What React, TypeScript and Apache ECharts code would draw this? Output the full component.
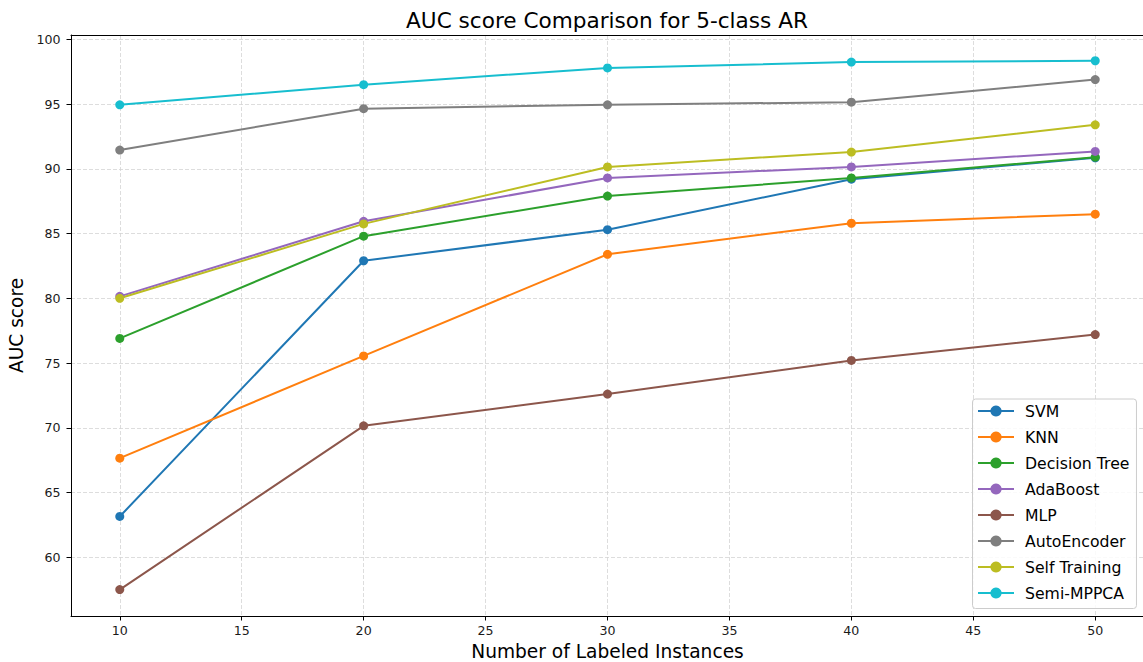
import React, { useEffect, useRef } from "react";
import * as echarts from "echarts";

const xValues = [10, 20, 30, 40, 50];
const xTicks = [10, 15, 20, 25, 30, 35, 40, 45, 50];
const yTicks = [60, 65, 70, 75, 80, 85, 90, 95, 100];

const seriesNames = ["SVM", "KNN", "Decision Tree", "AdaBoost", "MLP", "AutoEncoder", "Self Training", "Semi-MPPCA"];
const colors = ["#1f77b4", "#ff7f0e", "#2ca02c", "#9467bd", "#8c564b", "#7f7f7f", "#bcbd22", "#17becf"];

const svm = [63.15, 82.9, 85.3, 89.2, 90.85];
const knn = [67.65, 75.55, 83.4, 85.8, 86.5];
const decisionTree = [76.9, 84.8, 87.9, 89.3, 90.9];
const adaBoost = [80.15, 85.95, 89.3, 90.15, 91.35];
const mlp = [57.5, 70.15, 72.6, 75.2, 77.2];
const autoEncoder = [91.45, 94.65, 94.95, 95.15, 96.9];
const selfTraining = [80.0, 85.75, 90.15, 91.3, 93.4];
const semiMppca = [94.95, 96.5, 97.8, 98.25, 98.35];

const seriesValues = [svm, knn, decisionTree, adaBoost, mlp, autoEncoder, selfTraining, semiMppca];

const FONT = "DejaVu Sans";

export default function App() {
  const ref = useRef<HTMLDivElement>(null);
  useEffect(() => {
    if (!ref.current) return;
    const chart = echarts.init(ref.current, undefined, { renderer: "svg" });
    const gridLine = { show: true, lineStyle: { color: "#d4d4d4", type: [4, 2] as any, width: 0.8 } };
    chart.setOption({
      animation: false,
      backgroundColor: "#ffffff",
      title: {
        text: "AUC score Comparison for 5-class AR",
        left: 607,
        textAlign: "center",
        top: 9,
        padding: 0,
        textStyle: { fontFamily: FONT, fontSize: 21.6, fontWeight: "normal", color: "#000" },
      },
      grid: { left: 71, top: 35, width: 1073, height: 581, containLabel: false, outerBoundsMode: "none" },
      legend: {
        orient: "vertical",
        left: 972.5,
        top: 399,
        padding: [4, 7, 7.5, 4.5],
        itemWidth: 36,
        itemHeight: 14,
        itemGap: 10,
        borderColor: "#cccccc",
        borderWidth: 1,
        borderRadius: 3,
        backgroundColor: "rgba(255,255,255,0.85)",
        textStyle: { fontFamily: FONT, fontSize: 15.7, color: "#000", padding: [0, 0, 0, 6] },
        data: seriesNames,
      },
      xAxis: [
        {
          type: "value",
          min: 8,
          max: 52,
          name: "Number of Labeled Instances",
          nameLocation: "middle",
          nameGap: 26,
          nameTextStyle: { fontFamily: FONT, fontSize: 18.6, color: "#000" },
          axisLine: { show: true, onZero: false, lineStyle: { color: "#000", width: 1 } },
          axisTick: { show: true, length: 4.5, customValues: xTicks, lineStyle: { color: "#000" } },
          axisLabel: { fontFamily: FONT, fontSize: 12.6, color: "#1a1a1a", margin: 8, customValues: xTicks },
          splitLine: { ...gridLine, customValues: xTicks },
        },
        {
          type: "value",
          position: "top",
          min: 8,
          max: 52,
          axisLine: { show: true, lineStyle: { color: "#000", width: 1 } },
          axisTick: { show: false },
          axisLabel: { show: false },
          splitLine: { show: false },
        },
      ],
      yAxis: {
        type: "value",
        min: 55.46,
        max: 100.34,
        name: "AUC score",
        nameLocation: "middle",
        nameGap: 44,
        nameRotate: 90,
        nameTextStyle: { fontFamily: FONT, fontSize: 18.6, color: "#000" },
        axisLine: { show: true, onZero: false, lineStyle: { color: "#000", width: 1 } },
        axisTick: { show: true, length: 4.5, customValues: yTicks, lineStyle: { color: "#000" } },
        axisLabel: { fontFamily: FONT, fontSize: 12.6, color: "#1a1a1a", margin: 10.5, customValues: yTicks },
        splitLine: { ...gridLine, customValues: yTicks },
      },
      series: seriesNames.map((name, i) => ({
        name,
        type: "line",
        xAxisIndex: 0,
        data: xValues.map((x, j) => [x, seriesValues[i][j]]),
        symbol: "circle",
        symbolSize: 9,
        showSymbol: true,
        color: colors[i],
        lineStyle: { width: 2, color: colors[i] },
        itemStyle: { color: colors[i] },
      })),
    });
    return () => chart.dispose();
  }, []);
  return <div ref={ref} style={{ position: "absolute", left: 0, top: 0, width: 1143, height: 662 }} />;
}
